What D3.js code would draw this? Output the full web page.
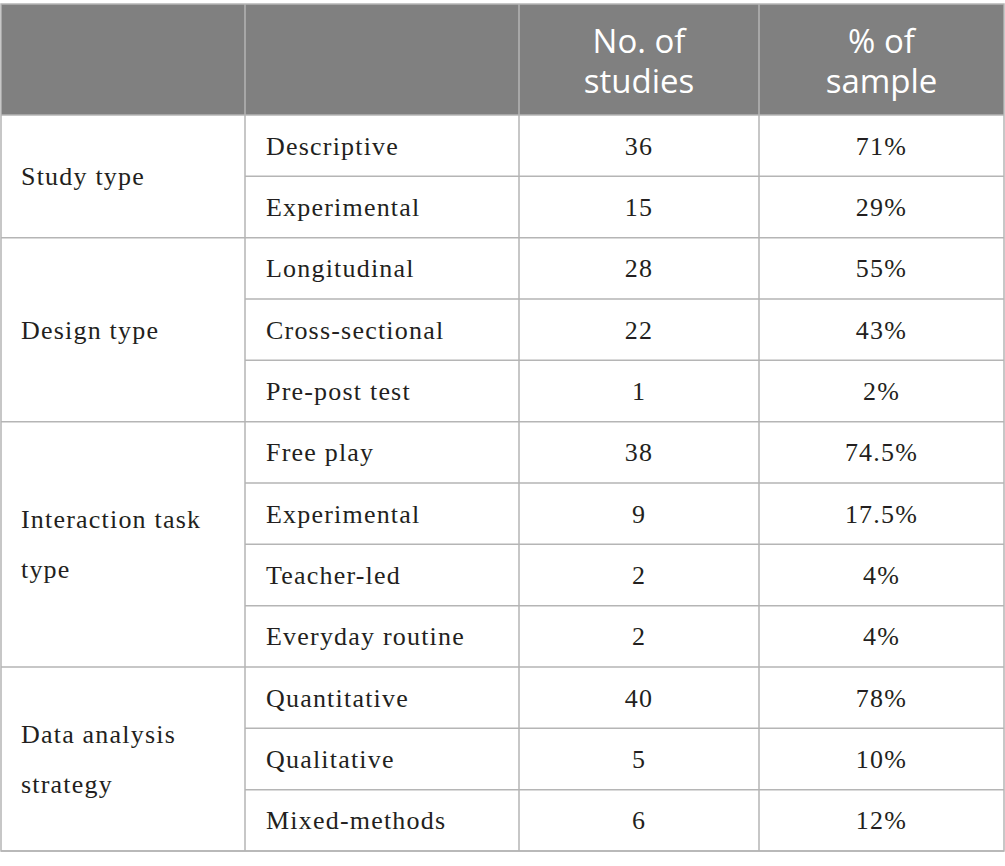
<!DOCTYPE html>
<meta charset="utf-8">
<style>

body {
  background: #fff;
  margin: 0;
}

.cell-line {
  stroke: #b5b5b5;
  stroke-width: 1.5px;
  fill: none;
}

.head text {
  font: 400 33px "Open Sans", sans-serif;
  fill: #fff;
  text-anchor: middle;
}

.body text {
  font: 400 26px "Liberation Serif", serif;
  letter-spacing: 1.2px;
  fill: #231f20;
}

</style>
<svg width="1005" height="866"></svg>
<script src="https://d3js.org/d3.v7.min.js"></script>
<script>

// table content
var headers = [[], [], ["No. of", "studies"], ["% of", "sample"]];

var groups = [
  {lines: ["Study type"], size: 2},
  {lines: ["Design type"], size: 3},
  {lines: ["Interaction task", "type"], size: 4},
  {lines: ["Data analysis", "strategy"], size: 3}
];

var categories = ["Descriptive", "Experimental", "Longitudinal", "Cross-sectional", "Pre-post test",
  "Free play", "Experimental", "Teacher-led", "Everyday routine",
  "Quantitative", "Qualitative", "Mixed-methods"];

var studies = [36, 15, 28, 22, 1, 38, 9, 2, 2, 40, 5, 6];

var percents = ["71", "29", "55", "43", "2", "74.5", "17.5", "4", "4", "78", "10", "12"];

var svg = d3.select("svg"),
    tLeft = 1, tRight = 1004,
    tTop = 4, headBottom = 115, tBottom = 851,
    colEdges = [tLeft, 245, 519, 759, tRight];

var y = d3.scaleBand()
    .domain(d3.range(categories.length))
    .range([headBottom, tBottom]);

var colMid = function(i) { return (colEdges[i] + colEdges[i + 1]) / 2; };

// header
var head = svg.append("g").attr("class", "head");

head.append("rect")
    .attr("x", tLeft)
    .attr("y", tTop)
    .attr("width", tRight - tLeft)
    .attr("height", headBottom - tTop)
    .style("fill", "#808080");

headers.forEach(function(lines, i) {
  lines.forEach(function(line, j) {
    head.append("text")
        .attr("x", colMid(i))
        .attr("y", 53 + j * 40)
        .text(line);
  });
});

// body
var body = svg.append("g").attr("class", "body");

body.selectAll(".cat")
    .data(categories)
  .enter().append("text")
    .attr("class", "cat")
    .attr("x", colEdges[1] + 21)
    .attr("y", function(d, i) { return y(i) + y.bandwidth() / 2 + 9; })
    .text(function(d) { return d; });

body.selectAll(".num")
    .data(studies)
  .enter().append("text")
    .attr("class", "num")
    .attr("x", colMid(2))
    .attr("y", function(d, i) { return y(i) + y.bandwidth() / 2 + 9; })
    .style("text-anchor", "middle")
    .text(function(d) { return d; });

body.selectAll(".pct")
    .data(percents)
  .enter().append("text")
    .attr("class", "pct")
    .attr("x", colMid(3))
    .attr("y", function(d, i) { return y(i) + y.bandwidth() / 2 + 9; })
    .style("text-anchor", "middle")
    .text(function(d) { return d + "%"; });

// group labels and lines
var start = 0;
groups.forEach(function(g) {
  g.start = start;
  g.end = start + g.size;
  start = g.end;
});

var grid = svg.append("g");

groups.forEach(function(g) {
  var y0 = y(g.start),
      y1 = g.end < categories.length ? y(g.end) : tBottom,
      mid = (y0 + y1) / 2;

  g.lines.forEach(function(line, j) {
    body.append("text")
        .attr("x", tLeft + 20)
        .attr("y", mid + 9 + (j - (g.lines.length - 1) / 2) * 50)
        .text(line);
  });

  // row lines inside the group
  d3.range(g.start + 1, g.end).forEach(function(i) {
    grid.append("line")
        .attr("class", "cell-line")
        .attr("x1", colEdges[1]).attr("x2", tRight)
        .attr("y1", y(i)).attr("y2", y(i));
  });

  // group boundary
  grid.append("line")
      .attr("class", "cell-line")
      .attr("x1", tLeft).attr("x2", tRight)
      .attr("y1", y1).attr("y2", y1);
});

grid.append("line")
    .attr("class", "cell-line")
    .attr("x1", tLeft).attr("x2", tRight)
    .attr("y1", headBottom).attr("y2", headBottom);

grid.append("rect")
    .attr("class", "cell-line")
    .attr("x", tLeft).attr("y", tTop)
    .attr("width", tRight - tLeft).attr("height", tBottom - tTop);

colEdges.slice(1, -1).forEach(function(x) {
  grid.append("line")
      .attr("class", "cell-line")
      .attr("x1", x).attr("x2", x)
      .attr("y1", tTop).attr("y2", tBottom);
});

</script>
